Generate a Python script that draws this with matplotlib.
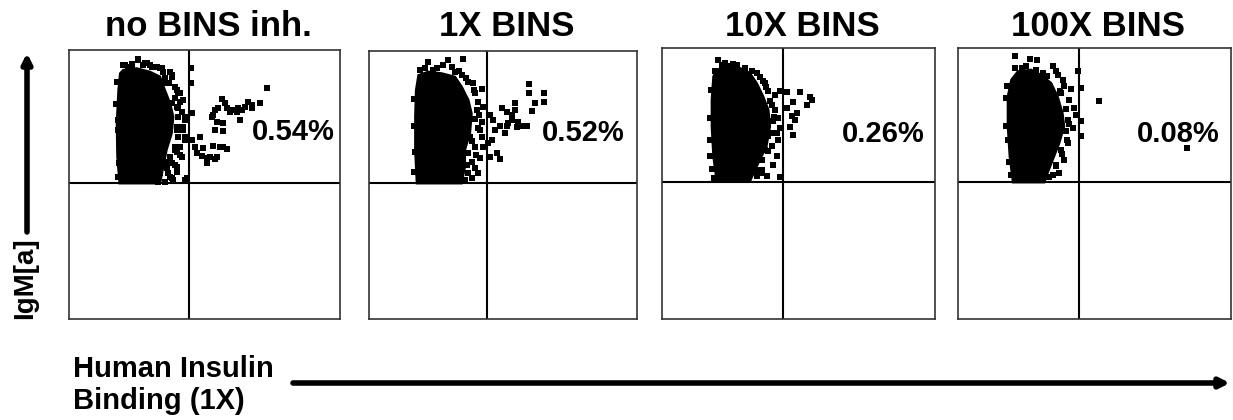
import matplotlib.pyplot as plt
from matplotlib.patches import FancyArrowPatch

plt.rcParams['font.family'] = ['Liberation Sans', 'DejaVu Sans']

# --------------------------
# DATA (display units 0-100 on both axes)
# --------------------------
TITLES = ["no BINS inh.", "1X BINS", "10X BINS", "100X BINS"]
PERCENTS = ["0.54%", "0.52%", "0.26%", "0.08%"]
GATE_X = [44.4, 43.9, 44.4, 44.4]
GATE_Y = [50.4, 50.6, 50.7, 50.4]

# dense core of each population (outline)
core1_x = [18.6, 17.8, 17.6, 18.2, 18.8, 20.0, 25.0, 29.9, 33.6, 35.4, 37.3, 38.5, 37.9, 36.0, 34.8, 33.6]
core1_y = [50.4, 60.3, 72.7, 85.1, 91.3, 92.6, 93.2, 91.9, 90.1, 85.1, 80.2, 75.2, 69.0, 62.8, 56.6, 50.4]
core2_x = [17.8, 17.2, 17.2, 17.5, 18.4, 22.1, 27.1, 32.1, 34.6, 37.1, 38.3, 37.7, 35.8, 35.8, 34.6]
core2_y = [50.6, 63.1, 75.5, 85.4, 91.0, 92.3, 91.7, 90.4, 86.7, 81.7, 76.7, 69.3, 63.1, 56.8, 50.6]
core3_x = [20.0, 18.8, 18.2, 18.2, 18.8, 20.0, 23.7, 28.6, 32.2, 34.7, 37.1, 39.0, 39.6, 38.3, 34.7, 32.2]
core3_y = [50.7, 60.0, 71.1, 80.9, 89.5, 92.0, 93.2, 92.6, 90.8, 87.1, 82.1, 77.2, 71.1, 63.7, 56.3, 50.7]
core4_x = [20.1, 18.9, 18.2, 18.2, 19.5, 21.9, 26.8, 30.4, 34.1, 36.5, 38.3, 38.9, 37.1, 34.7, 32.8, 31.6]
core4_y = [50.4, 60.0, 71.1, 82.1, 88.3, 91.4, 92.0, 90.1, 87.1, 82.1, 76.0, 71.1, 64.9, 58.7, 53.8, 50.4]

# individual events around the core and in the upper right gate
dots1_x = [20.0, 21.9, 23.1, 25.6, 27.4, 28.9, 30.5, 32.3, 33.6, 34.8, 37.3, 37.9, 35.4, 36.7, 39.1, 40.3,
           39.1, 41.0, 39.7, 41.6, 40.3, 42.8, 39.7, 42.2, 40.3, 42.8, 39.1, 39.7, 37.3, 41.0, 36.0, 39.1,
           36.0, 39.7, 33.6, 37.3, 32.3, 42.8, 38.5, 44.9, 44.9, 45.3, 45.3,
           20.7, 23.1, 25.6, 28.0, 29.9, 32.4, 34.2, 37.3, 37.9, 34.8, 39.7, 41.0, 37.9, 42.2, 40.3, 42.8,
           42.2, 39.7, 42.8, 41.0, 39.1, 41.6, 37.9, 39.7, 36.6, 37.9, 35.4, 33.0, 43.4, 18.2, 18.2, 18.8,
           18.6, 18.2, 17.5, 17.8,
           72.9, 70.5, 67.4, 66.2, 64.9, 63.7, 62.5, 60.6, 59.4, 58.2, 57.6, 56.3, 55.1, 53.9, 53.3, 52.6,
           54.5, 56.9, 53.9, 56.9, 48.3, 46.5, 49.6, 47.1, 49.0, 50.8, 52.0, 53.9, 54.5, 50.8, 53.3, 55.7,
           56.9, 58.2, 61.9, 63.1, 67.4]
dots1_y = [94.4, 93.8, 94.4, 96.5, 94.4, 95.0, 93.8, 93.8, 93.2, 91.9, 91.9, 90.7, 89.5, 87.6, 86.4, 83.9,
           82.0, 80.8, 78.9, 77.1, 75.2, 74.0, 71.5, 70.3, 67.8, 66.5, 64.1, 62.2, 60.3, 61.0, 58.5, 57.2,
           56.0, 54.8, 54.2, 52.9, 52.3, 51.7, 51.7, 93.2, 87.9, 76.5, 66.5,
           94.4, 94.8, 96.3, 95.1, 94.4, 93.8, 93.2, 91.9, 90.1, 87.6, 85.1, 83.9, 80.2, 81.4, 78.3, 75.2,
           71.5, 70.3, 67.8, 64.1, 62.8, 60.3, 57.9, 56.6, 54.2, 52.3, 51.0, 51.0, 52.3, 74.0, 70.3, 64.1,
           57.9, 52.9, 80.0, 88.0,
           85.7, 80.2, 79.6, 80.8, 78.9, 77.7, 78.3, 77.7, 77.1, 78.3, 80.2, 81.7, 78.3, 77.7, 75.8, 75.0,
           73.4, 72.7, 70.3, 70.0, 67.5, 64.1, 63.4, 61.6, 60.6, 59.7, 60.3, 59.4, 60.3, 57.9, 64.3, 64.1,
           63.8, 63.1, 77.1, 74.0, 78.3]
dots2_x = [22.1, 27.7, 29.6, 35.2, 19.0, 20.9, 25.2, 30.8, 32.1, 34.6, 37.1, 38.9, 42.0, 39.6, 40.8, 42.7,
           40.2, 42.0, 40.8, 37.7, 42.0, 39.6, 42.7, 41.4, 38.3, 39.6, 37.1, 40.8, 38.3, 35.8,
           24.0, 33.5, 36.0, 39.0, 41.0, 39.5, 41.5, 38.5, 37.0, 39.8, 36.5, 16.8, 16.8, 17.0, 16.9,
           45.1, 46.4, 49.5, 51.4, 53.2, 54.5, 54.5, 52.0, 53.2, 55.7, 57.0, 58.8, 48.9, 51.4, 50.7, 47.0,
           45.8, 47.6, 48.9, 45.1, 59.5, 59.5, 61.9, 60.7, 65.4, 65.4, 55.1, 44.5]
dots2_y = [96.0, 94.8, 96.6, 96.9, 92.9, 93.5, 93.5, 94.2, 92.3, 91.0, 88.6, 87.9, 85.7, 84.2, 81.1, 79.2,
           78.0, 73.6, 71.1, 68.0, 68.0, 64.3, 64.3, 60.0, 58.7, 56.2, 54.4, 54.4, 52.5, 51.9,
           93.0, 92.5, 89.8, 85.5, 76.2, 74.8, 70.6, 66.5, 62.0, 61.2, 57.5, 82.0, 72.0, 62.5, 55.0,
           76.1, 74.3, 78.6, 77.4, 76.1, 78.0, 80.7, 73.0, 74.3, 73.6, 72.0, 72.0, 72.0, 72.0, 69.3, 70.5,
           66.8, 61.8, 59.6, 60.6, 87.6, 84.2, 80.5, 77.7, 84.5, 80.8, 71.8, 65.5]
dots3_x = [20.6, 21.9, 24.3, 27.4, 19.4, 32.8, 34.7, 37.1, 37.7, 39.0, 41.4, 43.2, 39.6, 41.4, 42.6, 40.8,
           43.2, 42.0, 39.0, 42.6, 40.2, 37.7, 42.0, 40.8, 36.5, 38.3, 34.7, 43.2, 36.5, 17.6, 17.6, 17.6,
           23.0, 26.0, 30.5, 35.8, 38.2, 40.2, 40.9, 39.8, 38.9, 36.8, 35.2, 17.9, 18.4, 19.2,
           45.7, 48.1, 50.5, 53.0, 54.8, 54.2, 45.7, 47.5, 49.3, 48.7, 46.9, 48.1]
dots3_y = [95.4, 93.8, 93.5, 93.8, 91.4, 91.4, 90.8, 87.7, 87.1, 84.0, 82.8, 84.0, 80.3, 77.2, 74.1, 72.9,
           70.4, 68.6, 67.4, 66.1, 63.7, 62.4, 60.0, 56.9, 55.0, 52.6, 52.6, 52.3, 53.8, 74.1, 66.1, 60.0,
           94.5, 94.0, 92.8, 89.2, 85.6, 79.0, 74.5, 68.8, 62.0, 58.8, 54.8, 84.5, 55.5, 52.0,
           83.6, 79.9, 83.6, 79.1, 80.7, 81.9, 77.8, 75.0, 76.0, 73.5, 70.8, 68.0]
dots4_x = [20.9, 26.2, 29.0, 23.4, 34.7, 35.9, 36.5, 31.0, 38.3, 38.9, 41.4, 43.8, 45.0, 37.7, 40.8, 42.6,
           43.2, 40.1, 45.0, 42.0, 39.5, 45.0, 40.1, 37.7, 38.9, 35.9, 37.1, 34.7, 31.6, 17.6, 17.6, 18.2,
           21.0, 25.0, 28.5, 32.5, 37.2, 39.6, 40.5, 39.8, 38.0, 36.0, 33.5, 17.9, 18.6, 19.4,
           51.7, 83.9]
dots4_y = [97.2, 95.9, 95.4, 92.6, 93.5, 91.4, 90.1, 90.8, 88.1, 85.8, 84.9, 91.4, 85.2, 83.4, 80.9, 77.8,
           75.4, 73.5, 72.9, 70.4, 69.2, 67.4, 64.9, 62.4, 58.7, 56.3, 53.8, 53.2, 54.4, 81.5, 71.1, 66.1,
           92.8, 93.3, 92.0, 89.5, 84.0, 77.5, 72.0, 66.0, 61.0, 57.0, 52.4, 86.0, 58.0, 53.0,
           80.3, 63.1]

CORES = [(core1_x, core1_y), (core2_x, core2_y), (core3_x, core3_y), (core4_x, core4_y)]
DOTS = [(dots1_x, dots1_y), (dots2_x, dots2_y), (dots3_x, dots3_y), (dots4_x, dots4_y)]
PCT_POS = [(98.2, 69.4), (95.5, 69.4), (96.3, 68.3), (96.0, 68.3)]

# --------------------------
# LAYOUT
# --------------------------
fig = plt.figure(figsize=(12.33, 4.2), dpi=100)
boxes = [[0.0560, 0.2405, 0.2198, 0.6405],
         [0.2993, 0.2405, 0.2174, 0.6380],
         [0.5369, 0.2405, 0.2214, 0.6452],
         [0.7770, 0.2405, 0.2214, 0.6452]]

for i in range(4):
    ax = fig.add_axes(boxes[i])
    cx, cy = CORES[i]
    ax.fill(cx, cy, color='black', lw=1.5)
    dx, dy = DOTS[i]
    ax.scatter(dx, dy, marker='s', s=18, color='black', lw=0)
    ax.axvline(GATE_X[i], color='black', lw=1.5)
    ax.axhline(GATE_Y[i], color='black', lw=1.5)
    ax.text(PCT_POS[i][0], PCT_POS[i][1], PERCENTS[i], ha='right', va='center',
            fontsize=21, fontweight='bold')
    ax.set_xlim(0, 100)
    ax.set_ylim(0, 100)
    ax.set_xticks([])
    ax.set_yticks([])
    for sp in ax.spines.values():
        sp.set_linewidth(1.2)
        sp.set_color('#333333')
    b = boxes[i]
    fig.text(b[0] + b[2] / 2 + 0.003, 1 - 36 / 420, TITLES[i], ha='center', va='baseline',
             fontsize=25, fontweight='bold')

# axis arrows
fig.add_artist(FancyArrowPatch((27 / 1233, 1 - 232 / 420), (27 / 1233, 1 - 53 / 420),
                               transform=fig.transFigure, arrowstyle='-|>', mutation_scale=14,
                               lw=4, color='black', shrinkA=0, shrinkB=0))
fig.add_artist(FancyArrowPatch((293 / 1233, 1 - 383 / 420), (1230 / 1233, 1 - 383 / 420),
                               transform=fig.transFigure, arrowstyle='-|>', mutation_scale=14,
                               lw=4, color='black', shrinkA=0, shrinkB=0))

fig.text(25 / 1233, 1 - 278 / 420, "IgM[a]", rotation=90, ha='center', va='center',
         fontsize=20, fontweight='bold')
fig.text(73 / 1233, 1 - 377 / 420, "Human Insulin", ha='left', va='baseline',
         fontsize=21, fontweight='bold')
fig.text(73 / 1233, 1 - 409 / 420, "Binding (1X)", ha='left', va='baseline',
         fontsize=21, fontweight='bold')

plt.savefig("out.png", dpi=100)
plt.close()
